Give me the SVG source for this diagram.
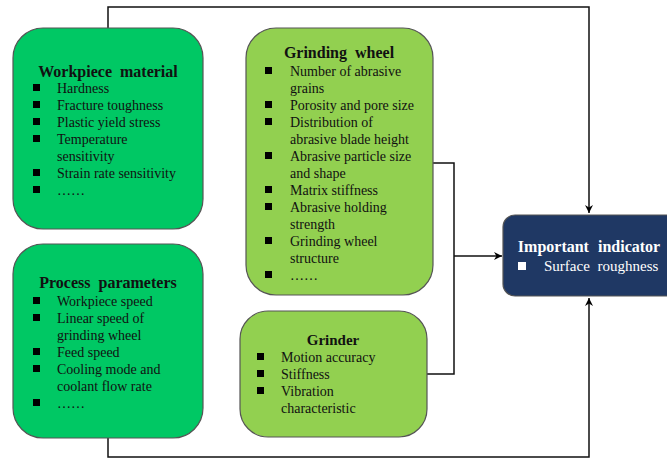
<svg xmlns="http://www.w3.org/2000/svg" width="667" height="459" viewBox="0 0 667 459">
<defs>
<marker id="arr" viewBox="0 0 10 10" refX="10" refY="5" markerWidth="8" markerHeight="8" orient="auto" markerUnits="userSpaceOnUse">
<path d="M0,0 L10,5 L0,10 L3,5 Z" fill="#000"/>
</marker>
<style>
.box1{fill:#00c864;stroke:#555;stroke-width:1.2}
.box2{fill:#92d050;stroke:#555;stroke-width:1.2}
.box3{fill:#1f3864;stroke:#555;stroke-width:1.2}
text{font-family:"Liberation Serif","Times New Roman",serif;font-size:14px;fill:#111}
.t{font-weight:bold;font-size:16px;text-anchor:middle;word-spacing:4px}
.w{fill:#fff}
.ws{font-size:15px;word-spacing:4px}
.b{fill:#000}
.bw{fill:#fff}
.c{fill:none;stroke:#111;stroke-width:1.5}
</style>
</defs>
<rect width="667" height="459" fill="#fff"/>
<g id="connectors">
<path class="c" d="M108,28 V7 H589 V213" marker-end="url(#arr)"/>
<path class="c" d="M108,438 V457 H589 V298" marker-end="url(#arr)"/>
<path class="c" d="M433,163 H454 V374 H427"/>
<path class="c" d="M454,256 H502" marker-end="url(#arr)"/>
</g>
<g id="workpiece">
<rect class="box1" x="13" y="28" width="190" height="201" rx="30"/>
<text class="t" x="108" y="77">Workpiece material</text>
<rect class="b" x="33" y="84" width="7" height="7"/>
<rect class="b" x="33" y="101" width="7" height="7"/>
<rect class="b" x="33" y="118" width="7" height="7"/>
<rect class="b" x="33" y="135" width="7" height="7"/>
<rect class="b" x="33" y="169" width="7" height="7"/>
<rect class="b" x="33" y="186" width="7" height="7"/>
<text x="57" y="93">Hardness</text>
<text x="57" y="110">Fracture toughness</text>
<text x="57" y="127">Plastic yield stress</text>
<text x="57" y="144">Temperature</text>
<text x="57" y="161">sensitivity</text>
<text x="57" y="178">Strain rate sensitivity</text>
<text x="57" y="195">……</text>
</g>
<g id="process">
<rect class="box1" x="13" y="244" width="190" height="194" rx="30"/>
<text class="t" x="108" y="288">Process parameters</text>
<rect class="b" x="33" y="297" width="7" height="7"/>
<rect class="b" x="33" y="314" width="7" height="7"/>
<rect class="b" x="33" y="348" width="7" height="7"/>
<rect class="b" x="33" y="365" width="7" height="7"/>
<rect class="b" x="33" y="399" width="7" height="7"/>
<text x="57" y="306">Workpiece speed</text>
<text x="57" y="323">Linear speed of</text>
<text x="57" y="340">grinding wheel</text>
<text x="57" y="357">Feed speed</text>
<text x="57" y="374">Cooling mode and</text>
<text x="57" y="391">coolant flow rate</text>
<text x="57" y="408">……</text>
</g>
<g id="grinding-wheel">
<rect class="box2" x="246" y="28" width="187" height="267" rx="30"/>
<text class="t" x="339" y="58">Grinding wheel</text>
<rect class="b" x="265" y="67" width="7" height="7"/>
<rect class="b" x="265" y="101" width="7" height="7"/>
<rect class="b" x="265" y="118" width="7" height="7"/>
<rect class="b" x="265" y="152" width="7" height="7"/>
<rect class="b" x="265" y="186" width="7" height="7"/>
<rect class="b" x="265" y="203" width="7" height="7"/>
<rect class="b" x="265" y="237" width="7" height="7"/>
<rect class="b" x="265" y="271" width="7" height="7"/>
<text x="290" y="76">Number of abrasive</text>
<text x="290" y="93">grains</text>
<text x="290" y="110">Porosity and pore size</text>
<text x="290" y="127">Distribution of</text>
<text x="290" y="144">abrasive blade height</text>
<text x="290" y="161">Abrasive particle size</text>
<text x="290" y="178">and shape</text>
<text x="290" y="195">Matrix stiffness</text>
<text x="290" y="212">Abrasive holding</text>
<text x="290" y="229">strength</text>
<text x="290" y="246">Grinding wheel</text>
<text x="290" y="263">structure</text>
<text x="290" y="280">……</text>
</g>
<g id="grinder">
<rect class="box2" x="240" y="311" width="187" height="126" rx="28"/>
<text class="t" x="333" y="345" style="font-size:15px">Grinder</text>
<rect class="b" x="257" y="353" width="7" height="7"/>
<rect class="b" x="257" y="370" width="7" height="7"/>
<rect class="b" x="257" y="387" width="7" height="7"/>
<text x="281" y="362">Motion accuracy</text>
<text x="281" y="379">Stiffness</text>
<text x="281" y="396">Vibration</text>
<text x="281" y="413">characteristic</text>
</g>
<g id="indicator">
<rect class="box3" x="503" y="215" width="180" height="81" rx="12"/>
<text class="t w" x="589" y="252" style="word-spacing:5px">Important indicator</text>
<rect class="bw" x="518" y="262" width="8" height="8"/>
<text class="w ws" x="544" y="271">Surface roughness</text>
</g>
</svg>
